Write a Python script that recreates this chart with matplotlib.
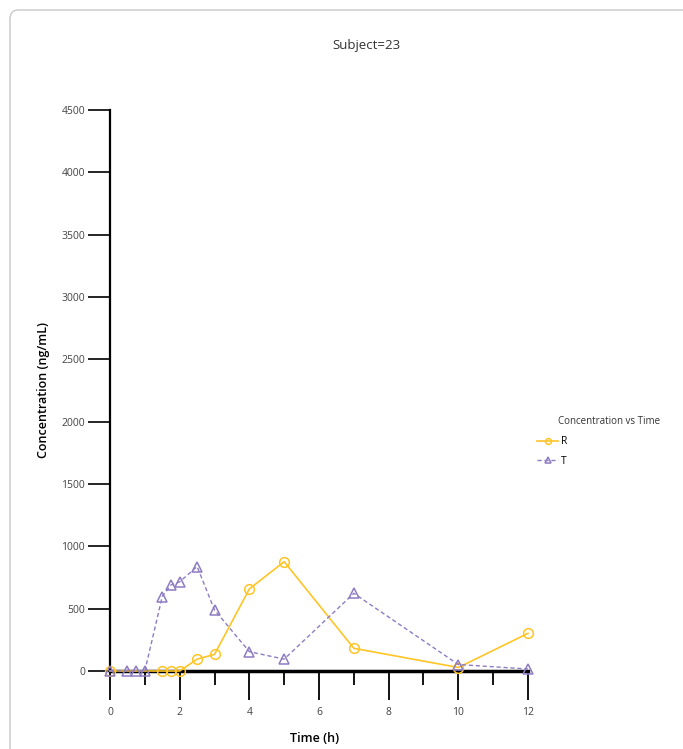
import matplotlib
matplotlib.use("Agg")
import matplotlib.pyplot as plt
from matplotlib.patches import FancyBboxPatch
from matplotlib.ticker import MultipleLocator

# data
time_r = [0, 1.5, 1.75, 2, 2.5, 3, 4, 5, 7, 10, 12]
conc_r = [0, 0, 0, 0, 95, 133, 658, 877, 182, 28, 302]

time_t = [0, 0.5, 0.75, 1, 1.5, 1.75, 2, 2.5, 3, 4, 5, 7, 10, 12]
conc_t = [0, 0, 0, 0, 597, 690, 715, 838, 490, 155, 95, 623, 52, 16]

x_ticks = [0, 2, 4, 6, 8, 10, 12]
y_ticks = [0, 500, 1000, 1500, 2000, 2500, 3000, 3500, 4000, 4500]

col_r = "#FFC425"
col_t = "#8E7CC3"

plt.rcParams['font.family'] = ['Open Sans', 'DejaVu Sans']

W, H = 683, 749
fig = plt.figure(figsize=(W / 100, H / 100), dpi=100)

# rounded panel border, runs off the right and bottom edges
frame = FancyBboxPatch((10 / W, -0.1), 720 / W, 1.1 - 10 / H,
                       boxstyle="round,pad=0,rounding_size=0.012",
                       transform=fig.transFigure, fill=False,
                       edgecolor="#c8c8c8", linewidth=1.0)
fig.patches.append(frame)

ax = fig.add_axes([110 / W, 1 - 671 / H, 418 / W, 561 / H])

ax.plot(time_r, conc_r, color=col_r, linewidth=1.2, marker="o",
        markersize=7, markerfacecolor="none", markeredgewidth=1.1,
        clip_on=False, label="R", zorder=3)
ax.plot(time_t, conc_t, color=col_t, linewidth=1.0, linestyle=(0, (3, 2)),
        marker="^", markersize=7, markerfacecolor="none",
        markeredgewidth=1.1, clip_on=False, label="T", zorder=4)

ax.set_xlim(0, 12)
ax.set_ylim(0, 4500)
ax.set_xticks(x_ticks)
ax.xaxis.set_minor_locator(MultipleLocator(1))
ax.set_yticks(y_ticks)

for s in ["top", "right"]:
    ax.spines[s].set_visible(False)
ax.spines["bottom"].set_linewidth(2.5)
ax.spines["left"].set_linewidth(1.6)
ax.spines["bottom"].set_zorder(2)

ax.tick_params(axis="x", which="major", length=21, width=1.3, pad=5,
               labelsize=7.5, labelcolor="#444444")
ax.tick_params(axis="x", which="minor", length=10, width=1.3)
ax.tick_params(axis="y", length=16, width=1.2, pad=2, labelsize=7.5,
               labelcolor="#444444")

ax.set_xlabel("Time (h)", fontsize=9, fontweight="semibold")
ax.set_ylabel("Concentration (ng/mL)", fontsize=9, fontweight="semibold")
ax.xaxis.label.set_va("center")
ax.yaxis.label.set_va("center")
ax.xaxis.set_label_coords(0.49, -(739 - 671) / 561)
ax.yaxis.set_label_coords((44 - 110) / 418, 0.5)

fig.text(366 / W, 1 - 45 / H, "Subject=23", ha="center", va="center",
         fontsize=9.5, color="#333333")

fig.text(558 / W, 1 - 421 / H, "Concentration vs Time", ha="left",
         va="center", fontsize=7, color="#333333")
leg = ax.legend(loc="upper left", bbox_to_anchor=(528 / W, 1 - 427 / H),
                bbox_transform=fig.transFigure, frameon=False,
                fontsize=7.5, handlelength=2.0, handletextpad=0.3,
                labelspacing=0.8, markerscale=0.6)

fig.savefig("out.png", dpi=100)
